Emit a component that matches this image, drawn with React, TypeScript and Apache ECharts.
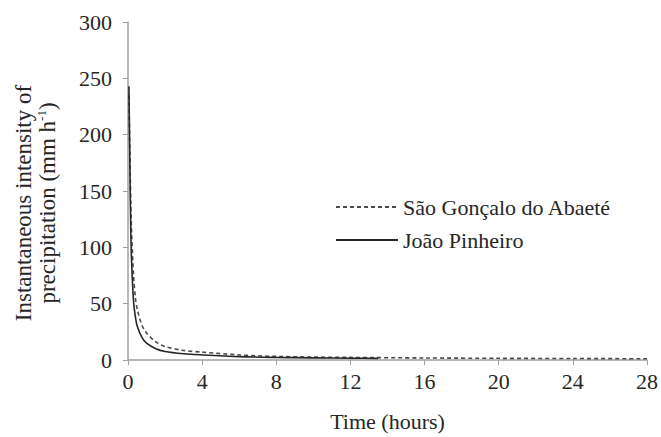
import React, { useEffect, useRef } from "react";
import * as echarts from "echarts";

const xTicks = [0, 4, 8, 12, 16, 20, 24, 28];
const yTicks = [0, 50, 100, 150, 200, 250, 300];

const saoGoncaloTime = [0.05, 0.1, 0.15, 0.2, 0.3, 0.4, 0.5, 0.75, 1, 1.5, 2, 3, 4, 6, 8, 10, 12, 16, 20, 24, 28];
const saoGoncaloValues = [235, 185, 140, 110, 75, 55, 45, 31, 24, 16, 12, 8.5, 7, 4.5, 3.2, 2.6, 2.3, 1.8, 1.5, 1.3, 1.1];

const joaoTime = [0.05, 0.1, 0.15, 0.2, 0.3, 0.4, 0.5, 0.75, 1, 1.5, 2, 3, 4, 6, 8, 10, 12, 13.5];
const joaoValues = [243, 175, 115, 85, 52, 38, 30, 20, 15, 10, 7.5, 5.5, 4.5, 3, 2.3, 1.9, 1.6, 1.4];

const seriesNames = ["São Gonçalo do Abaeté", "João Pinheiro"];

const FONT = "Liberation Serif";
const TEXT = "#262626";
const richT = { t: { fontFamily: FONT, fontSize: 22, color: TEXT } };

export default function App() {
  const ref = useRef<HTMLDivElement>(null);
  useEffect(() => {
    document.body.style.margin = "0";
    const chart = echarts.init(ref.current!, null, { renderer: "svg" });
    chart.setOption({
      animation: false,
      backgroundColor: "#ffffff",
      textStyle: { fontFamily: FONT },
      grid: { left: 128, right: 14, top: 22, bottom: 74 },
      legend: {
        orient: "vertical",
        left: 330,
        top: 191,
        itemWidth: 62,
        itemHeight: 10,
        itemGap: 11,
        itemStyle: { opacity: 0 },
        textStyle: { fontFamily: FONT, fontSize: 22, color: TEXT, rich: richT },
        formatter: (name: string) => "{t|" + name + "}",
        data: seriesNames,
      },
      xAxis: {
        type: "value",
        min: 0,
        max: 28,
        interval: 4,
        name: "Time (hours)",
        nameLocation: "middle",
        nameGap: 50,
        nameTextStyle: { fontFamily: FONT, fontSize: 22, color: TEXT },
        axisLine: { lineStyle: { color: "#a0a0a0", width: 1.5 } },
        axisTick: { show: true, length: 5, lineStyle: { color: "#a0a0a0" } },
        axisLabel: {
          fontFamily: FONT,
          fontSize: 22,
          color: TEXT,
          margin: 10,
          rich: richT,
          formatter: (v: number) => (xTicks.includes(v) ? "{t|" + v + "}" : ""),
        },
        splitLine: { show: false },
      },
      yAxis: {
        type: "value",
        min: 0,
        max: 300,
        interval: 50,
        axisLine: { show: true, lineStyle: { color: "#a0a0a0", width: 1.5 } },
        axisTick: { show: true, length: 5, lineStyle: { color: "#a0a0a0" } },
        axisLabel: {
          fontFamily: FONT,
          fontSize: 22,
          color: TEXT,
          margin: 16,
          rich: richT,
          formatter: (v: number) => (yTicks.includes(v) ? "{t|" + v + "}" : ""),
        },
        splitLine: { show: false },
      },
      graphic: [
        {
          type: "text",
          x: 35,
          y: 203,
          rotation: Math.PI / 2,
          style: {
            text: "Instantaneous intensity of\nprecipitation (mm h{sup|-1})",
            align: "center",
            verticalAlign: "middle",
            fontFamily: FONT,
            fontSize: 23,
            lineHeight: 24,
            fill: TEXT,
            rich: {
              sup: { fontFamily: FONT, fontSize: 13, verticalAlign: "top", lineHeight: 24, fill: TEXT },
            },
          },
        },
      ],
      series: [
        {
          name: seriesNames[0],
          type: "line",
          showSymbol: false,
          symbol: "none",
          smooth: 0.3,
          data: saoGoncaloTime.map((t, i) => [t, saoGoncaloValues[i]]),
          lineStyle: { color: "#4a4a4a", width: 1.6, type: [4, 3] },
          itemStyle: { color: "#4a4a4a" },
        },
        {
          name: seriesNames[1],
          type: "line",
          showSymbol: false,
          symbol: "none",
          smooth: 0.3,
          data: joaoTime.map((t, i) => [t, joaoValues[i]]),
          lineStyle: { color: "#262626", width: 1.6, type: "solid" },
          itemStyle: { color: "#262626" },
        },
      ],
    });
    return () => chart.dispose();
  }, []);
  return <div ref={ref} style={{ width: 661, height: 437 }} />;
}
